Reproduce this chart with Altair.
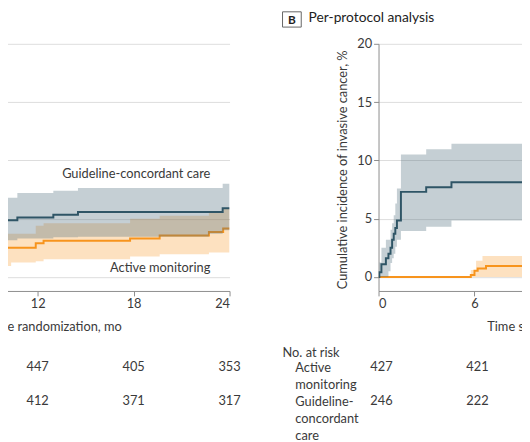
import altair as alt
import pandas as pd

# ---------------- data ----------------
# Panel A (intention-to-treat analysis) - visible part only
a_gcc_month = [9.66, 10.73, 12.98, 14.52, 22.71, 23.57, 24.0]
a_gcc_est = [4.86, 5.11, 5.34, 5.57, 5.57, 5.9, 5.9]
a_gcc_lo = [3.15, 3.3, 3.4, 3.45, 3.7, 4.0, 4.0]
a_gcc_hi = [6.8, 7.2, 7.4, 7.63, 7.63, 8.0, 8.0]

a_am_month = [9.66, 9.91, 10.34, 11.88, 12.37, 17.78, 19.63, 22.71, 23.6, 24.0]
a_am_est = [2.22, 2.5, 2.5, 2.9, 3.1, 3.3, 3.55, 3.85, 4.15, 4.15]
a_am_lo = [0.95, 0.95, 1.24, 1.35, 1.52, 1.75, 1.95, 2.1, 2.1, 2.1]
a_am_hi = [3.7, 3.7, 3.7, 4.4, 4.6, 5.0, 5.25, 5.5, 5.9, 5.9]

# Panel B (per-protocol analysis) - visible part only
b_gcc_month = [0, 0.05, 0.18, 0.46, 0.62, 0.75, 0.85, 0.95, 1.05, 1.15, 1.4, 2.98, 4.56, 9.4]
b_gcc_est = [0, 0.4, 1.1, 1.6, 2.0, 2.5, 3.2, 3.7, 4.2, 4.85, 7.3, 7.7, 8.13, 8.13]
b_gcc_lo = [0, 0, 0, 0, 0.5, 1.2, 1.6, 2.0, 2.6, 3.2, 3.95, 4.3, 4.85, 4.85]
b_gcc_hi = [0, 1.25, 2.5, 3.2, 3.2, 4.05, 4.6, 5.3, 6.3, 7.6, 10.5, 10.95, 11.43, 11.43]

b_am_month = [0, 5.77, 6.0, 6.1, 6.2, 6.5, 6.72, 9.4]
b_am_est = [0, 0.17, 0.53, 0.53, 0.73, 0.73, 0.95, 0.95]
b_am_lo = [0, 0, 0, 0, 0, 0, 0, 0]
b_am_hi = [0, 0.6, 0.6, 1.4, 1.4, 1.8, 1.8, 1.8]

# Numbers at risk
groups = ["Active monitoring", "Guideline-concordant care"]
a_risk_month = [12, 18, 24]
a_risk_am = [447, 405, 353]
a_risk_gcc = [412, 371, 317]
b_risk_month = [0, 6]
b_risk_am = [427, 421]
b_risk_gcc = [246, 222]

# Curve labels in panel A
label_text = ["Guideline-concordant care", "Active monitoring"]
label_month = [22.8, 22.8]
label_value = [8.8, 0.8]

y_ticks = [0, 5, 10, 15, 20]

# ---------------- styling ----------------
FONT = "Lato"
TXT = "#3a3a3a"
GCC_LINE = "#2f5566"
GCC_BAND = "#4f6d7c"
AM = "#f7941d"
X_TITLE = "Time since randomization, mo"

PXM = 16.24  # pixels per month
A_W = 233
B_W = 152
PLOT_H = 251

xa = alt.Scale(domain=[24 - A_W / PXM, 24], nice=False, zero=False)
xb = alt.Scale(domain=[0, B_W / PXM], nice=False, zero=False)
ys = alt.Scale(domain=[-1.2, 20], nice=False, zero=False)


def frame(month, est, lo, hi):
    return pd.DataFrame({"month": month, "est": est, "lo": lo, "hi": hi})


def curves(gcc, am, xscale, xaxis, yaxis):
    am_band = alt.Chart(am).mark_area(
        interpolate="step-after", color=AM, opacity=0.28, clip=True
    ).encode(
        x=alt.X("month:Q", scale=xscale, axis=xaxis),
        y=alt.Y("lo:Q", scale=ys, axis=yaxis),
        y2="hi:Q",
    )
    am_line = alt.Chart(am).mark_line(
        interpolate="step-after", color=AM, strokeWidth=2, clip=True
    ).encode(x=alt.X("month:Q", scale=xscale), y=alt.Y("est:Q", scale=ys))
    gcc_band = alt.Chart(gcc).mark_area(
        interpolate="step-after", color=GCC_BAND, opacity=0.33, clip=True
    ).encode(x=alt.X("month:Q", scale=xscale), y=alt.Y("lo:Q", scale=ys), y2="hi:Q")
    gcc_line = alt.Chart(gcc).mark_line(
        interpolate="step-after", color=GCC_LINE, strokeWidth=2, clip=True
    ).encode(x=alt.X("month:Q", scale=xscale), y=alt.Y("est:Q", scale=ys))
    return [am_band, am_line, gcc_band, gcc_line]


# ---------------- panel A ----------------
a_xaxis = alt.Axis(
    values=a_risk_month, title=X_TITLE, titleX=(12 - (24 - A_W / PXM)) * PXM,
    titleAlign="center", titleY=36, titleBaseline="middle",
    tickSize=5, labelPadding=2, grid=False,
)
a_yaxis = alt.Axis(values=y_ticks, grid=True, labels=False, ticks=False,
                   domain=False, title=None)
a_layers = curves(frame(a_gcc_month, a_gcc_est, a_gcc_lo, a_gcc_hi),
                  frame(a_am_month, a_am_est, a_am_lo, a_am_hi), xa, a_xaxis, a_yaxis)
labels_df = pd.DataFrame({"label": label_text, "month": label_month, "value": label_value})
a_labels = alt.Chart(labels_df).mark_text(
    font=FONT, fontSize=13, color=TXT, align="right", baseline="middle"
).encode(x=alt.X("month:Q", scale=xa), y=alt.Y("value:Q", scale=ys), text="label:N")
a_plot = alt.layer(*a_layers, a_labels).properties(width=A_W, height=PLOT_H)

# ---------------- panel B ----------------
b_xaxis = alt.Axis(
    values=b_risk_month, title=X_TITLE, titleX=12 * PXM,
    titleAlign="center", titleY=36, titleBaseline="middle",
    tickSize=5, labelPadding=2, grid=False,
)
b_yaxis = alt.Axis(
    values=y_ticks, grid=True, tickSize=5, labelPadding=2,
    title="Cumulative incidence of invasive cancer, %",
    titleAngle=270, titleX=-37, titleY=PLOT_H / 2 + 2,
    titleAlign="center", titleBaseline="middle",
)
b_layers = curves(frame(b_gcc_month, b_gcc_est, b_gcc_lo, b_gcc_hi),
                  frame(b_am_month, b_am_est, b_am_lo, b_am_hi), xb, b_xaxis, b_yaxis)
head_df = pd.DataFrame({"letter": ["B"], "title": ["Per-protocol analysis"]})
b_box = alt.Chart(head_df).mark_rect(fill="white", stroke="#666666", strokeWidth=1).encode(
    x=alt.value(-97.5), x2=alt.value(-78.5), y=alt.value(-32.5), y2=alt.value(-17)
)
b_letter = alt.Chart(head_df).mark_text(
    font=FONT, fontSize=12, fontWeight="bold", color="#222222", align="center", baseline="middle"
).encode(x=alt.value(-88), y=alt.value(-24.5), text="letter:N")
b_title = alt.Chart(head_df).mark_text(
    font=FONT, fontSize=14, color="#222222", align="left", baseline="middle"
).encode(x=alt.value(-71), y=alt.value(-26.5), text="title:N")
b_plot = alt.layer(*b_layers, b_box, b_letter, b_title).properties(width=B_W, height=PLOT_H)


# ---------------- number-at-risk tables ----------------
def risk_frame(month, am, gcc):
    return pd.DataFrame({
        "month": month + month,
        "group": [groups[0]] * len(month) + [groups[1]] * len(month),
        "n": am + gcc,
    })


row_scale = alt.Scale(type="point", domain=groups, padding=0.5)
TABLE_H = 69

a_table = alt.Chart(risk_frame(a_risk_month, a_risk_am, a_risk_gcc)).mark_text(
    font=FONT, fontSize=13, color=TXT, baseline="middle"
).encode(
    x=alt.X("month:Q", scale=xa, axis=None),
    y=alt.Y("group:N", scale=row_scale, axis=None),
    text="n:Q",
).properties(width=A_W, height=TABLE_H)

b_row_axis = alt.Axis(
    title="No. at risk", titleAngle=0, titleAlign="left", titleX=-98, titleY=2.5,
    titleBaseline="middle", labelAlign="left", labelPadding=85, ticks=False,
    tickSize=0, domain=False, grid=False, labelBaseline="top", labelOffset=-5.5,
    labelLineHeight=17.5, labelLimit=0,
    labelExpr="split(replace(datum.value, 'Guideline-', 'Guideline- '), ' ')",
)
b_table = alt.Chart(risk_frame(b_risk_month, b_risk_am, b_risk_gcc)).mark_text(
    font=FONT, fontSize=13, color=TXT, baseline="middle", dx=3
).encode(
    x=alt.X("month:Q", scale=xb, axis=None),
    y=alt.Y("group:N", scale=row_scale, axis=b_row_axis),
    text="n:Q",
).properties(width=B_W, height=TABLE_H)

chart = alt.concat(
    a_plot, b_plot, a_table, b_table,
    columns=2, spacing={"row": 60, "column": 151.3}, bounds="flush",
).properties(
    autosize=alt.AutoSizeParams(type="none"),
    padding={"left": -8, "top": 33, "right": 530, "bottom": 401},
).configure_view(stroke=None).configure_axis(
    labelFont=FONT, titleFont=FONT, labelFontSize=13, titleFontSize=13,
    labelColor=TXT, titleColor=TXT, titleFontWeight="normal",
    domainColor="#8c8c8c", tickColor="#8c8c8c", gridColor="#dcdcdc",
)

chart.save("out.html", embed_options={"renderer": "svg", "actions": False})
